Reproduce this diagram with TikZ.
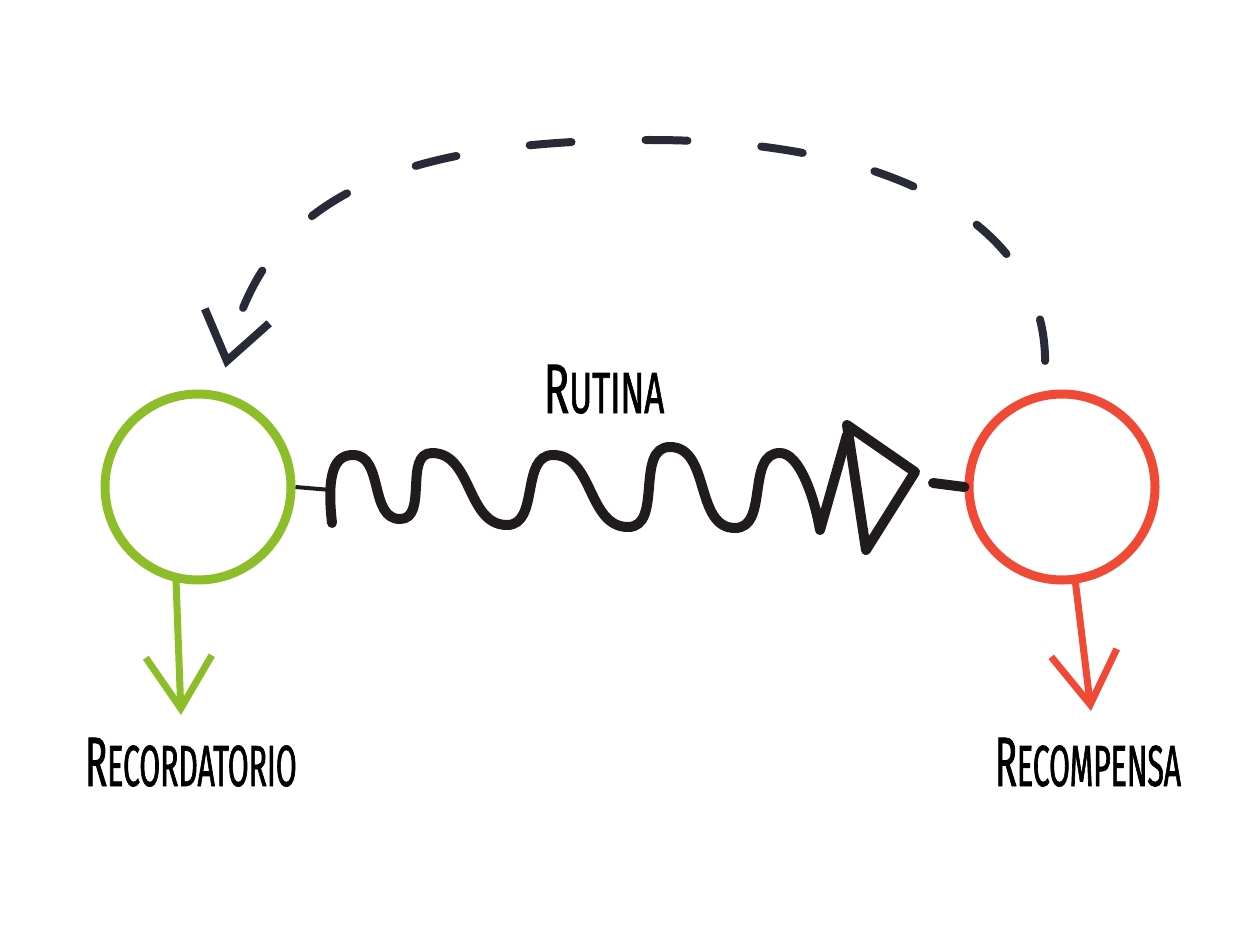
\documentclass[tikz,border=0pt]{standalone}
\usepackage{fontspec}
\usetikzlibrary{arrows.meta}
\newfontfamily\handfont[FakeStretch=0.52,FakeBold=1.1]{Fira Sans}
\newfontfamily\handfontwide[FakeStretch=0.6,FakeBold=1.1]{Fira Sans}
\newcommand{\handcaps}[3][\handfont]{{#1\fontsize{70}{70}\selectfont #2\fontsize{58}{58}\selectfont #3}}
\definecolor{cuegreen}{RGB}{141,190,42}
\definecolor{rewardred}{RGB}{240,74,54}
\definecolor{ink}{RGB}{32,28,30}
\definecolor{loopink}{RGB}{40,42,56}

\begin{document}
\begin{tikzpicture}[x=1pt,y=-1pt,
    habit/.style={circle,minimum size=186pt,line width=9pt,inner sep=0pt},
    wave/.style={ink,line width=10pt,line cap=round,line join=round},
    loopback/.style={loopink,line width=8pt,line cap=round,dash pattern=on 42pt off 74pt,
        shorten <=30pt,shorten >=25pt,-{Straight Barb[length=46pt,width=66pt]}},
    outcome/.style={line width=7pt,line cap=round,-{Straight Barb[length=52pt,width=66pt]}},
    word/.style={inner sep=0pt,anchor=base,text=black}]
    \useasboundingbox (0,0) rectangle (1252,928);
    \fill[white] (0,0) rectangle (1252,928);

    % the two habit circles
    \node[habit,draw=cuegreen] (cue) at (198,487) {};
    \node[habit,draw=rewardred] (reward) at (1062,487) {};

    % routine: wavy line ending in a triangle
    \draw[ink,line width=4pt] (cue.east) -- (331,490);
    \draw[wave] (332,523) .. controls (326,470) and (336,455) .. (353,455)
        to[out=0,in=180] (400,519) to[out=0,in=180] (432,453)
        to[out=0,in=180] (507,525) to[out=0,in=180] (553,455)
        to[out=0,in=180] (628,527) to[out=0,in=180] (670,447)
        to[out=0,in=180] (735,528) to[out=0,in=180] (780,453)
        .. controls (800,453) and (815,500) .. (820,530) -- (847,435);
    \draw[wave] (847,425) -- (866,550) -- (915,472) -- cycle;
    \draw[wave] (933,483) -- (reward.west);

    % loop back from reward to cue
    \draw[loopback] (reward.100) .. controls (1045,228) and (900,140) .. (650,140)
        .. controls (380,140) and (262,205) .. (cue.77);

    % down arrows to the labels
    \coordinate (cue tip) at (181,715);
    \coordinate (reward tip) at (1091,711);
    \draw[outcome,cuegreen] (cue.257) -- (cue tip);
    \draw[outcome,rewardred] (reward.278) -- (reward tip);

    \node[word] (routine label) at (604,413) {\handcaps[\handfontwide]{R}{UTINA}};
    \node[word] (cue label) at (191,786) {\handcaps{R}{ECORDATORIO}};
    \node[word] (reward label) at (1088,786) {\handcaps{R}{ECOMPENSA}};
\end{tikzpicture}
\end{document}
